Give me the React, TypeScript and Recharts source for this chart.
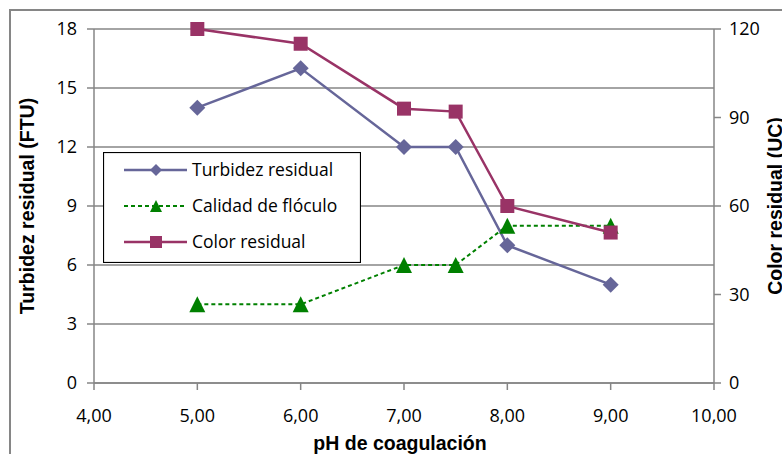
import React from 'react';
import { LineChart, Line, XAxis, YAxis, CartesianGrid, Legend, Label } from 'recharts';

// pH de coagulación and the measured responses at each pH
const phValues = [5, 6, 7, 7.5, 8, 9];
const turbidezResidual = [14, 16, 12, 12, 7, 5];
const calidadFloculo = [4, 4, 6, 6, 8, 8];
const colorResidual = [120, 115, 93, 92, 60, 51];

// Axis ticks
const phTicks = [4, 5, 6, 7, 8, 9, 10];
const turbidezTicks = [0, 3, 6, 9, 12, 15, 18];
const colorTicks = [0, 30, 60, 90, 120];

const seriesNames = ['Turbidez residual', 'Calidad de flóculo', 'Color residual'];

const rows = phValues.map((ph, i) => ({
  ph,
  turbidez: turbidezResidual[i],
  floculo: calidadFloculo[i],
  color: colorResidual[i],
}));

const GRAY = '#868686';
const TURB = '#666699';
const FLOC = '#008000';
const COL = '#993366';
const FONT = '"Open Sans", Lato, sans-serif';
const TITLE_FONT = '"Liberation Sans", Arial, sans-serif';

const fmtPh = (v: number) => v.toFixed(2).replace('.', ',');

const diamond = (cx: number, cy: number, r: number) =>
  `${cx},${cy - r} ${cx + r},${cy} ${cx},${cy + r} ${cx - r},${cy}`;
const triangle = (cx: number, cy: number, r: number) =>
  `${cx},${cy - r} ${cx + r},${cy + r} ${cx - r},${cy + r}`;

const renderDiamond = (p: any) => (
  <polygon key={`d-${p.index}`} points={diamond(p.cx, p.cy, 8)} fill={TURB} />
);
const renderTriangle = (p: any) => (
  <polygon key={`t-${p.index}`} points={triangle(p.cx, p.cy, 8)} fill={FLOC} />
);
const renderSquare = (p: any) => (
  <rect key={`s-${p.index}`} x={p.cx - 7} y={p.cy - 7} width={14} height={14} fill={COL} />
);

const LegendBox = () => {
  const rowsY = [18, 54, 90];
  return (
    <svg width={258} height={111} style={{ display: 'block' }}>
      <rect x={0.5} y={0.5} width={257} height={110} fill="#fff" stroke="#000" strokeWidth={1.2} />
      {/* Turbidez residual */}
      <line x1={21} x2={84} y1={rowsY[0]} y2={rowsY[0]} stroke={TURB} strokeWidth={2.5} />
      <polygon points={diamond(53, rowsY[0], 6)} fill={TURB} />
      {/* Calidad de flóculo */}
      <line x1={21} x2={84} y1={rowsY[1]} y2={rowsY[1]} stroke={FLOC} strokeWidth={2} strokeDasharray="4 3" />
      <polygon points={triangle(53, rowsY[1], 6)} fill={FLOC} />
      {/* Color residual */}
      <line x1={21} x2={84} y1={rowsY[2]} y2={rowsY[2]} stroke={COL} strokeWidth={2.5} />
      <rect x={47} y={rowsY[2] - 6} width={12} height={12} fill={COL} />
      {seriesNames.map((n, i) => (
        <text key={n} x={89} y={rowsY[i] + 6} fontFamily={FONT} fontSize={17.5} fill="#000">
          {n}
        </text>
      ))}
    </svg>
  );
};

const tickStyle = { fill: '#000', fontSize: 18, fontFamily: FONT };
const titleStyle = { fontFamily: TITLE_FONT, fontWeight: 'bold' as const, fontSize: 19.5, fill: '#000', textAnchor: 'middle' as const };

export default function App() {
  return (
    <div
      style={{
        position: 'absolute',
        left: 0,
        top: 0,
        width: 782,
        height: 454,
        overflow: 'hidden',
        background: '#fff',
      }}
    >
      <div
        style={{
          position: 'absolute',
          left: 9,
          top: 9,
          width: 900,
          height: 600,
          border: `2px solid ${GRAY}`,
          boxSizing: 'border-box',
        }}
      />
      <div style={{ position: 'absolute', left: 0, top: 0 }}>
        <LineChart width={782} height={454} data={rows} margin={{ top: 29, right: 0, bottom: 0, left: 0 }}>
          <CartesianGrid yAxisId="left" vertical={false} stroke={GRAY} strokeWidth={1.5} />
          <XAxis
            type="number"
            dataKey="ph"
            domain={[4, 10]}
            ticks={phTicks}
            interval={0}
            tickFormatter={fmtPh}
            height={71}
            tickSize={7}
            tickMargin={19}
            axisLine={{ stroke: GRAY, strokeWidth: 1.5 }}
            tickLine={{ stroke: GRAY, strokeWidth: 1.5 }}
            tick={tickStyle}
          >
            <Label value="pH de coagulación" position="insideBottom" offset={4} dx={-4} textAnchor="middle" style={titleStyle} />
          </XAxis>
          <YAxis
            yAxisId="left"
            orientation="left"
            width={94}
            domain={[0, 18]}
            ticks={turbidezTicks}
            interval={0}
            tickSize={7}
            tickMargin={10}
            axisLine={{ stroke: GRAY, strokeWidth: 1.5 }}
            tickLine={{ stroke: GRAY, strokeWidth: 1.5 }}
            tick={tickStyle}
          >
            <Label value="Turbidez residual (FTU)" position="insideLeft" angle={-90} offset={27} textAnchor="middle" style={titleStyle} />
          </YAxis>
          <YAxis
            yAxisId="right"
            orientation="right"
            width={68}
            domain={[0, 120]}
            ticks={colorTicks}
            interval={0}
            tickSize={7}
            tickMargin={8}
            axisLine={{ stroke: GRAY, strokeWidth: 1.5 }}
            tickLine={{ stroke: GRAY, strokeWidth: 1.5 }}
            tick={tickStyle}
          >
            <Label value="Color residual (UC)" position="insideRight" angle={-90} offset={7} textAnchor="middle" style={titleStyle} />
          </YAxis>
          <Line
            yAxisId="left"
            dataKey="turbidez"
            name={seriesNames[0]}
            stroke={TURB}
            strokeWidth={2.5}
            dot={renderDiamond}
            activeDot={false}
            isAnimationActive={false}
          />
          <Line
            yAxisId="left"
            dataKey="floculo"
            name={seriesNames[1]}
            stroke={FLOC}
            strokeWidth={2}
            strokeDasharray="4 3"
            dot={renderTriangle}
            activeDot={false}
            isAnimationActive={false}
          />
          <Line
            yAxisId="right"
            dataKey="color"
            name={seriesNames[2]}
            stroke={COL}
            strokeWidth={2.5}
            dot={renderSquare}
            activeDot={false}
            isAnimationActive={false}
          />
          <Legend
            layout="horizontal"
            verticalAlign="middle"
            align="center"
            wrapperStyle={{ left: 103, top: 152, width: 258, height: 111 }}
            content={() => <LegendBox />}
          />
        </LineChart>
      </div>
    </div>
  );
}
